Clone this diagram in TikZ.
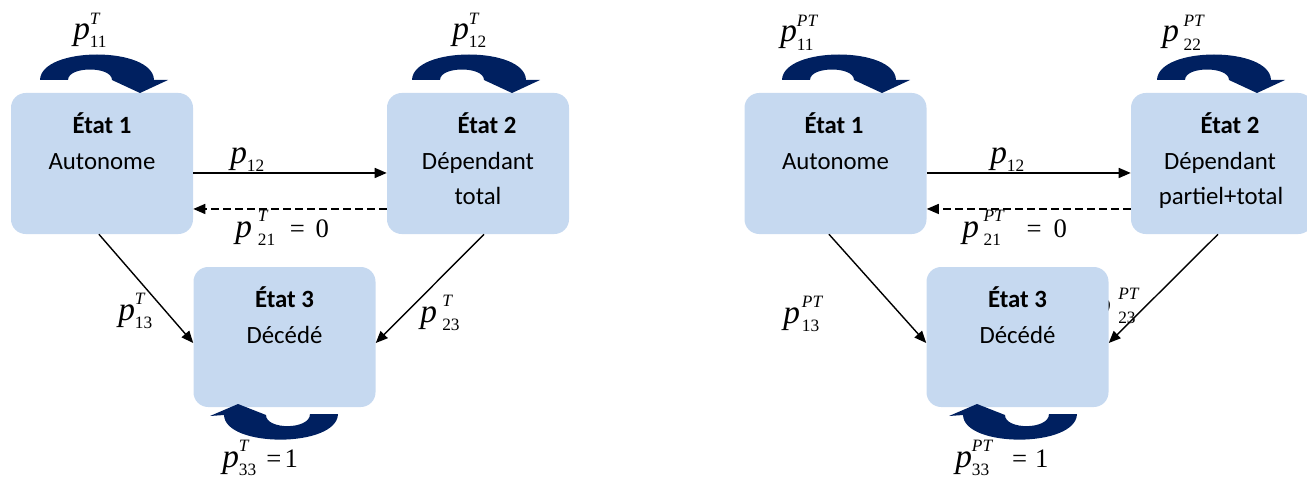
\documentclass[tikz,border=0pt]{standalone}
\usepackage{fontspec}
\setmainfont{Carlito}
\newfontfamily\tnr{Liberation Serif}
\usetikzlibrary{arrows.meta,calc}
\definecolor{boxc}{RGB}{198,217,240}
\definecolor{loopc}{RGB}{0,32,96}
\newcommand{\pfont}{\tnr\itshape\fontsize{25}{28}\selectfont}
\newcommand{\subfont}{\tnr\upshape\fontsize{13}{13}\selectfont}
\newcommand{\supfont}{\tnr\itshape\fontsize{13}{13}\selectfont}
\newcommand{\eqfont}{\tnr\upshape\fontsize{20}{22}\selectfont}
\newcommand{\plab}[4][0pt]{\mbox{{\pfont p}\kern#1\relax
  \setbox0=\hbox{\supfont #3}\setbox2=\hbox{\subfont #2}%
  \ifdim\wd0>\wd2 \wd2=\wd0\fi
  \rlap{\raise11.5pt\box0}\lower6pt\box2}#4}
\newcommand{\toploop}[1]{\fill[loopc] (#1,80) .. controls ({#1+1},46) and ({#1+113},46) .. ({#1+114},80) -- ({#1+128},80) -- ({#1+100},93) -- ({#1+72},80) .. controls ({#1+72},66) and ({#1+28},66) .. ({#1+28},80) -- cycle;}
\newcommand{\botloop}[1]{\fill[loopc] (#1,414) .. controls ({#1-1},448) and ({#1-113},448) .. ({#1-114},415) -- ({#1-128},416) -- ({#1-100},404) -- ({#1-72},415) .. controls ({#1-72},430) and ({#1-28},430) .. ({#1-28},414) -- cycle;}
\begin{document}
\begin{tikzpicture}[x=0.75pt,y=-0.75pt,
  box/.style={fill=boxc, rounded corners=11pt, minimum width=136.5pt, minimum height=105.75pt, inner sep=0pt},
  txt/.style={anchor=base, inner sep=0pt, font=\fontsize{18.6}{22}\selectfont},
  lab/.style={anchor=base west, inner sep=0pt},
  arr/.style={-{Triangle[length=9pt,width=7.5pt]}, line width=1.05pt},
  dsh/.style={dash pattern=on 5.5pt off 3.5pt}]
\useasboundingbox (0,0) rectangle (1307,478);
% label partly hidden behind right state 3
\node[lab] (r23) at (1094,315) {\plab[5.5pt]{23}{PT}{}};
% boxes
\node[box] (a1) at (102,163.5) {};
\node[box] (a2) at (478,163.5) {};
\node[box, minimum height=105pt] (a3) at (284.5,337) {};
\node[box] (b1) at (835.5,163.5) {};
\node[box] (b2) at (1222,163.5) {};
\node[box, minimum height=105pt] (b3) at (1017.5,337) {};
% box texts
\node[txt] (a1t1) at (102,133) {\textbf{État 1}};
\node[txt] (a1t2) at (102,169) {Autonome};
\node[txt] (a2t1) at (487,133) {\textbf{État 2}};
\node[txt] (a2t2) at (478,169) {Dépendant};
\node[txt] (a2t3) at (478,204) {total};
\node[txt] (a3t1) at (284.5,307) {\textbf{État 3}};
\node[txt] (a3t2) at (284.5,343) {Décédé};
\node[txt] (b1t1) at (834,133) {\textbf{État 1}};
\node[txt] (b1t2) at (835.5,169) {Autonome};
\node[txt] (b2t1) at (1230,133) {\textbf{État 2}};
\node[txt] (b2t2) at (1220,169) {Dépendant};
\node[txt] (b2t3) at (1221,204) {partiel+total};
\node[txt] (b3t1) at (1017.5,307) {\textbf{État 3}};
\node[txt] (b3t2) at (1017.5,343) {Décédé};
% self loops
\toploop{40}
\toploop{412}
\toploop{782}
\toploop{1157}
\botloop{338}
\botloop{1077}
% connectors left
\draw[arr] ([yshift=-7.1pt]a1.east) -- ([yshift=-7.1pt]a2.west);
\draw[arr,dsh] ([yshift=-34.1pt]a2.west) -- ([yshift=-34.1pt]a1.east);
\draw[arr] ([xshift=-2.3pt]a1.south) -- ([yshift=-4.5pt]a3.west);
\draw[arr] ([xshift=4.5pt]a2.south) -- ([yshift=-4.5pt]a3.east);
% connectors right
\draw[arr] ([yshift=-7.1pt]b1.east) -- ([yshift=-7.1pt]b2.west);
\draw[arr,dsh] ([yshift=-34.1pt]b2.west) -- ([yshift=-34.1pt]b1.east);
\draw[arr] ([xshift=-4.9pt]b1.south) -- ([yshift=-4.5pt]b3.west);
\draw[arr] ([xshift=-3pt]b2.south) -- ([yshift=-4.5pt]b3.east);
% labels left
\node[lab] (l11) at (73,40) {\plab{11}{T}{}};
\node[lab] (l22) at (452,40) {\plab{12}{T}{}};
\node[lab] (l12) at (230,163) {\plab{12}{}{}};
\node[lab] (l21) at (235,237) {\plab[4.5pt]{21}{T}{\kern11pt{\eqfont =}\kern8pt{\eqfont 0}}};
\node[lab] (l13) at (118,320) {\plab{13}{T}{}};
\node[lab] (l23) at (420,322) {\plab[4pt]{23}{T}{}};
\node[lab] (l33) at (222,467) {\plab{33}{T}{\kern7.5pt{\eqfont =}\kern2.5pt{\eqfont 1}}};
% labels right
\node[lab] (r11) at (780,42) {\plab{11}{PT}{}};
\node[lab] (r22) at (1162,42) {\plab[3.5pt]{22}{PT}{}};
\node[lab] (r12) at (990,163) {\plab{12}{}{}};
\node[lab] (r21) at (962,237) {\plab[3.5pt]{21}{PT}{\kern17pt{\eqfont =}\kern9pt{\eqfont 0}}};
\node[lab] (r13) at (783,323) {\plab[1.5pt]{13}{PT}{}};
\node[lab] (r33) at (955,467) {\plab{33}{PT}{\kern15pt{\eqfont =}\kern6pt{\eqfont 1}}};
\end{tikzpicture}
\end{document}
